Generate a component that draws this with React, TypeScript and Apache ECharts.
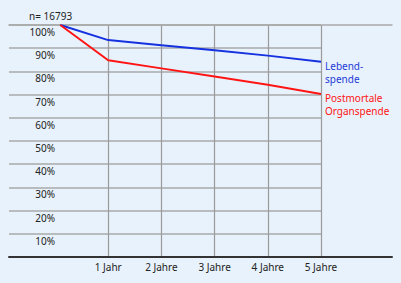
import React, { useEffect, useRef } from "react";
import * as echarts from "echarts";

const years = [0.1, 1, 2, 3, 4, 5];
const yearLabels = ["", "1 Jahr", "2 Jahre", "3 Jahre", "4 Jahre", "5 Jahre"];
const lebendValues = [100, 93.5, 91.3, 89.1, 86.8, 84.2];
const postmortalValues = [100, 84.8, 81.3, 77.8, 74.2, 70.3];
const seriesNames = ["Lebend-\nspende", "Postmortale\nOrganspende"];
const sampleLabel = "n= 16793";

const FONT = "'Noto Sans', 'Open Sans', sans-serif";

export default function App() {
  const ref = useRef<HTMLDivElement>(null);
  useEffect(() => {
    if (!ref.current) return;
    const chart = echarts.init(ref.current, undefined, { renderer: "svg" });
    const gridBox = { top: 25, bottom: 26 };
    const labelFor = (v: number) => {
      const i = years.findIndex((y) => Math.abs(y - v) < 1e-6);
      return i >= 0 ? yearLabels[i] : "";
    };
    const endLabel = (text: string, color: string) => ({
      show: true,
      formatter: text,
      color,
      fontFamily: FONT,
      fontSize: 10,
      lineHeight: 13,
      align: "left",
      verticalAlign: "top",
      distance: 4,
      offset: [0, -2],
    });
    chart.setOption({
      animation: false,
      backgroundColor: "#e8f2fc",
      title: {
        text: sampleLabel,
        left: 29,
        top: 11,
        padding: 0,
        textStyle: { fontFamily: FONT, fontSize: 10, fontWeight: "normal", color: "#222" },
      },
      grid: [
        { left: 55, right: 80, ...gridBox },
        { left: 9, right: 80, ...gridBox },
        { left: 9, right: 9, ...gridBox },
      ],
      xAxis: [
        {
          gridIndex: 0,
          type: "value",
          min: 0,
          max: 5,
          interval: 1,
          axisLine: { show: false },
          axisTick: { show: false },
          axisLabel: {
            showMinLabel: false,
            formatter: (v: number) => labelFor(v),
            fontFamily: FONT,
            fontSize: 10,
            color: "#222",
            margin: 5,
          },
          splitLine: { show: true, showMinLine: false, showMaxLine: true, lineStyle: { color: "#9a9a9a", width: 1.2 } },
        },
        { gridIndex: 1, type: "value", show: false },
        {
          gridIndex: 2,
          type: "value",
          position: "bottom",
          axisLine: { show: true, lineStyle: { color: "#333", width: 2 } },
          axisTick: { show: false },
          axisLabel: { show: false },
          splitLine: { show: false },
        },
        {
          gridIndex: 2,
          type: "value",
          position: "top",
          axisLine: { show: true, lineStyle: { color: "#a8a8a8", width: 1.5 } },
          axisTick: { show: false },
          axisLabel: { show: false },
          splitLine: { show: false },
        },
      ],
      yAxis: [
        { gridIndex: 0, type: "value", min: 0, max: 100, show: false },
        {
          gridIndex: 1,
          type: "value",
          min: 0,
          max: 100,
          interval: 10,
          axisLine: { show: false },
          axisTick: { show: false },
          axisLabel: {
            inside: true,
            showMinLabel: false,
            align: "right",
            verticalAlign: "top",
            margin: 46,
            padding: [2, 0, 0, 0],
            formatter: (v: number) => v + "%",
            fontFamily: FONT,
            fontSize: 10,
            color: "#222",
          },
          splitLine: { show: true, lineStyle: { color: "#aaaaaa", width: 1.5 } },
        },
        { gridIndex: 2, type: "value", min: 0, max: 100, show: false },
      ],
      series: [
        {
          name: seriesNames[0],
          type: "line",
          xAxisIndex: 0,
          yAxisIndex: 0,
          data: years.map((x, i) => [x, lebendValues[i]]),
          symbol: "none",
          lineStyle: { color: "#1531e0", width: 2 },
          endLabel: endLabel(seriesNames[0], "#1e3ad6"),
        },
        {
          name: seriesNames[1],
          type: "line",
          xAxisIndex: 0,
          yAxisIndex: 0,
          data: years.map((x, i) => [x, postmortalValues[i]]),
          symbol: "none",
          lineStyle: { color: "#ff1414", width: 2 },
          endLabel: endLabel(seriesNames[1], "#ff1414"),
        },
      ],
    });
    return () => chart.dispose();
  }, []);
  return (
    <div
      ref={ref}
      style={{ position: "fixed", left: 0, top: 0, width: 401, height: 283 }}
    />
  );
}
